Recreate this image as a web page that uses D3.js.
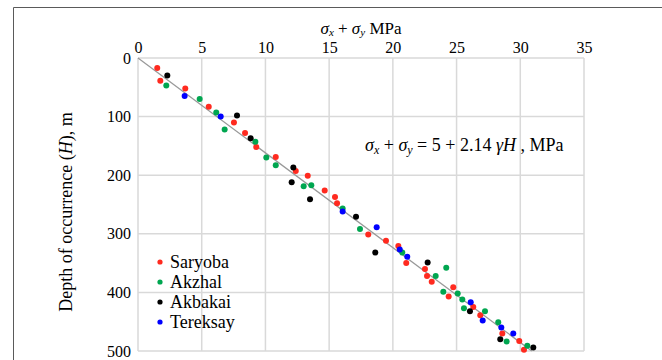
<!DOCTYPE html>
<html><head><meta charset="utf-8">
<script src="https://cdn.jsdelivr.net/npm/d3@7"></script>
<style>
body{margin:0;background:#fff;}
svg{display:block;font-family:"Liberation Serif","Times New Roman",serif;}
</style></head>
<body>
<svg id="c" width="662" height="360"></svg>
<script>
const xTicks = [0,5,10,15,20,25,30,35];
const yTicks = [0,100,200,300,400,500];
const seriesNames = ["Saryoba","Akzhal","Akbakai","Tereksay"];
const seriesColors = ["#ff2a1f","#00a650","#000000","#0000ff"];
const saryoba = [[1.51,17],[1.75,39],[3.71,52],[5.55,83],[7.53,110],[8.40,128],[9.28,152],[10.81,169],[12.38,193],[13.32,201],[14.65,226],[15.46,237],[15.62,248],[18.07,301],[19.46,312],[20.43,321],[21.05,350],[22.52,360],[22.68,372],[23.05,382],[24.74,391],[24.38,407],[26.31,425],[26.86,439],[28.59,470],[29.92,483],[30.29,498]];
const akzhal = [[2.22,47],[4.84,70],[6.14,93],[6.80,122],[9.21,143],[10.07,170],[10.81,183],[13.00,219],[13.60,217],[16.06,257],[17.42,292],[20.74,332],[24.19,358],[23.36,372],[23.96,399],[25.09,402],[25.45,412],[25.58,427],[27.23,432],[28.27,451],[28.93,484],[30.55,491]];
const akbakai = [[2.30,30],[7.77,98],[8.84,137],[12.19,187],[12.06,212],[13.50,241],[17.11,271],[18.62,332],[22.73,349],[26.05,432],[28.43,480],[31.02,494]];
const tereksay = [[3.66,65],[6.49,100],[16.06,262],[18.73,289],[20.54,327],[21.13,339],[26.11,417],[27.05,448],[28.51,460],[29.45,470]];
const trendLine = [[0,0],[30.9,500]];

const allSeries = [saryoba, akzhal, akbakai, tereksay];
const FONT = "Liberation Serif, serif";
const svg = d3.select("#c");
const x = d3.scaleLinear().domain([0,35]).range([138,584]);
const y = d3.scaleLinear().domain([0,500]).range([58,351]);

// outer frame
svg.append("path").attr("d","M13.5,360 V7.5 H662").attr("fill","none").attr("stroke","#5a5a5a").attr("stroke-width",1);

// gridlines
const grid = svg.append("g").attr("stroke","#d9d9d9").attr("stroke-width",1.5);
grid.selectAll(".vx").data(xTicks).join("line")
  .attr("x1",d=>x(d)).attr("x2",d=>x(d)).attr("y1",y(0)).attr("y2",y(500));
grid.selectAll(".hy").data(yTicks).join("line")
  .attr("x1",x(0)).attr("x2",x(35)).attr("y1",d=>y(d)).attr("y2",d=>y(d));

// axes labels
const ax = svg.append("g").attr("transform",`translate(0,${y(0)})`)
  .call(d3.axisTop(x).tickValues(xTicks).tickSize(0).tickPadding(5));
ax.attr("font-family",FONT).attr("font-size",16);
ax.select(".domain").remove();
ax.selectAll("text").attr("fill","#000");

const ay = svg.append("g").attr("transform",`translate(${x(0)},0)`)
  .call(d3.axisLeft(y).tickValues(yTicks).tickSize(0).tickPadding(7));
ay.attr("font-family",FONT).attr("font-size",16);
ay.select(".domain").remove();
ay.selectAll("text").attr("fill","#000");

// trend line
svg.append("line")
  .attr("x1",x(trendLine[0][0])).attr("y1",y(trendLine[0][1]))
  .attr("x2",x(trendLine[1][0])).attr("y2",y(trendLine[1][1]))
  .attr("stroke","#999").attr("stroke-width",1.3);

// points
allSeries.forEach((s,i)=>{
  svg.append("g").selectAll("circle").data(s).join("circle")
    .attr("cx",d=>x(d[0])).attr("cy",d=>y(d[1])).attr("r",3)
    .attr("fill",seriesColors[i]);
});

// x title
const xt = svg.append("text").attr("x",(x(0)+x(35))/2).attr("y",34).attr("text-anchor","middle")
  .attr("font-family",FONT).attr("font-size",17);
xt.append("tspan").attr("font-style","italic").text("σ");
xt.append("tspan").attr("font-style","italic").attr("font-size",11).attr("dy",2).text("x");
xt.append("tspan").attr("dy",-2).text(" + ");
xt.append("tspan").attr("font-style","italic").text("σ");
xt.append("tspan").attr("font-style","italic").attr("font-size",11).attr("dy",2).text("y");
xt.append("tspan").attr("dy",-2).text("  MPa");

// y title
const yt = svg.append("text").attr("transform","translate(72,212) rotate(-90)").attr("text-anchor","middle")
  .attr("font-family",FONT).attr("font-size",18);
yt.append("tspan").text("Depth of occurrence (");
yt.append("tspan").attr("font-style","italic").text("H");
yt.append("tspan").text("), m");

// equation
const eq = svg.append("text").attr("x",365).attr("y",151).attr("font-family",FONT).attr("font-size",18);
eq.append("tspan").attr("font-style","italic").text("σ");
eq.append("tspan").attr("font-style","italic").attr("font-size",12).attr("dy",3).text("x");
eq.append("tspan").attr("dy",-3).text(" + ");
eq.append("tspan").attr("font-style","italic").text("σ");
eq.append("tspan").attr("font-style","italic").attr("font-size",12).attr("dy",3).text("y");
eq.append("tspan").attr("dy",-3).text(" = 5 + 2.14 ");
eq.append("tspan").attr("font-style","italic").text("γH");
eq.append("tspan").text(" , MPa");

// legend
const lg = svg.append("g").attr("font-family",FONT);
seriesNames.forEach((n,i)=>{
  const yy = 262 + i*20;
  lg.append("circle").attr("cx",160).attr("cy",yy).attr("r",2.6).attr("fill",seriesColors[i]);
  lg.append("text").attr("x",170).attr("y",yy+6).attr("font-size",18).text(n);
});
</script>
</body></html>
